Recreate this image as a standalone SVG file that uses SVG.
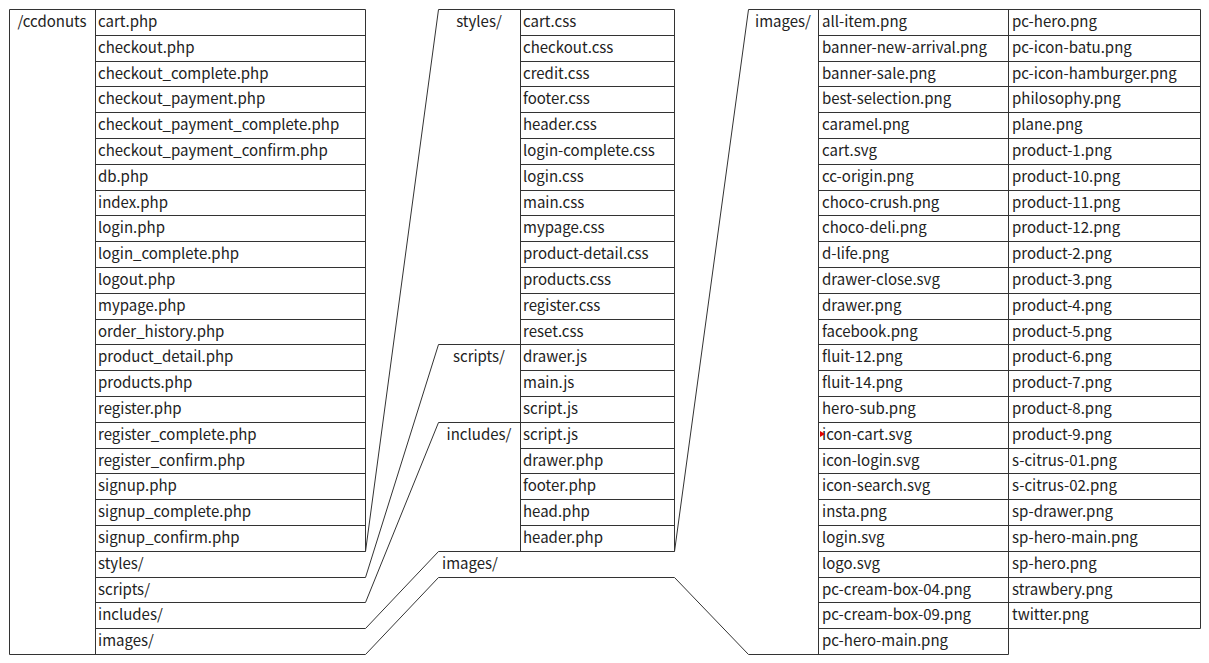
<svg xmlns="http://www.w3.org/2000/svg" width="1209" height="663" viewBox="0 0 1209 663">
<style>
.ln{fill:none;stroke:#333;stroke-width:1}
.t{font-family:"Noto Sans CJK JP","Liberation Sans",sans-serif;font-size:15px;fill:#222}
.c{text-anchor:middle}
</style>
<rect width="1209" height="663" fill="#fff"/>
<g id="ccdonuts">
<path class="ln" d="M9.5,9.5H365.5M9.5,9.5V654.5H365.5M95.5,9.5V654.5M365.5,9.5V551.5M95.5,35.5H365.5M95.5,61.5H365.5M95.5,86.5H365.5M95.5,112.5H365.5M95.5,138.5H365.5M95.5,164.5H365.5M95.5,190.5H365.5M95.5,215.5H365.5M95.5,241.5H365.5M95.5,267.5H365.5M95.5,293.5H365.5M95.5,319.5H365.5M95.5,344.5H365.5M95.5,370.5H365.5M95.5,396.5H365.5M95.5,422.5H365.5M95.5,448.5H365.5M95.5,473.5H365.5M95.5,499.5H365.5M95.5,525.5H365.5M95.5,551.5H365.5M95.5,577.5H365.5M95.5,602.5H365.5M95.5,628.5H365.5"/>
<text class="t c" x="52" y="27">/ccdonuts</text>
<text class="t" x="98" y="27">cart.php</text>
<text class="t" x="98" y="53">checkout.php</text>
<text class="t" x="98" y="79">checkout_complete.php</text>
<text class="t" x="98" y="104">checkout_payment.php</text>
<text class="t" x="98" y="130">checkout_payment_complete.php</text>
<text class="t" x="98" y="156">checkout_payment_confirm.php</text>
<text class="t" x="98" y="182">db.php</text>
<text class="t" x="98" y="208">index.php</text>
<text class="t" x="98" y="233">login.php</text>
<text class="t" x="98" y="259">login_complete.php</text>
<text class="t" x="98" y="285">logout.php</text>
<text class="t" x="98" y="311">mypage.php</text>
<text class="t" x="98" y="337">order_history.php</text>
<text class="t" x="98" y="362">product_detail.php</text>
<text class="t" x="98" y="388">products.php</text>
<text class="t" x="98" y="414">register.php</text>
<text class="t" x="98" y="440">register_complete.php</text>
<text class="t" x="98" y="466">register_confirm.php</text>
<text class="t" x="98" y="491">signup.php</text>
<text class="t" x="98" y="517">signup_complete.php</text>
<text class="t" x="98" y="543">signup_confirm.php</text>
<text class="t" x="98" y="569">styles/</text>
<text class="t" x="98" y="595">scripts/</text>
<text class="t" x="98" y="620">includes/</text>
<text class="t" x="98" y="646">images/</text>
</g>
<g id="connectors">
<path class="ln" d="M365.5,551.5L438.5,9.5M365.5,577.5L438.5,344.5M365.5,602.5L438.5,422.5M365.5,628.5L438.5,551.5M365.5,654.5L438.5,577.5M674.5,551.5L748.5,9.5M674.5,577.5L748.5,654.5"/>
</g>
<g id="styles">
<path class="ln" d="M438.5,9.5H674.5M520.5,9.5V344.5M674.5,9.5V344.5M438.5,344.5H674.5M520.5,35.5H674.5M520.5,61.5H674.5M520.5,86.5H674.5M520.5,112.5H674.5M520.5,138.5H674.5M520.5,164.5H674.5M520.5,190.5H674.5M520.5,215.5H674.5M520.5,241.5H674.5M520.5,267.5H674.5M520.5,293.5H674.5M520.5,319.5H674.5"/>
<text class="t c" x="479" y="27">styles/</text>
<text class="t" x="523" y="27">cart.css</text>
<text class="t" x="523" y="53">checkout.css</text>
<text class="t" x="523" y="79">credit.css</text>
<text class="t" x="523" y="104">footer.css</text>
<text class="t" x="523" y="130">header.css</text>
<text class="t" x="523" y="156">login-complete.css</text>
<text class="t" x="523" y="182">login.css</text>
<text class="t" x="523" y="208">main.css</text>
<text class="t" x="523" y="233">mypage.css</text>
<text class="t" x="523" y="259">product-detail.css</text>
<text class="t" x="523" y="285">products.css</text>
<text class="t" x="523" y="311">register.css</text>
<text class="t" x="523" y="337">reset.css</text>
</g>
<g id="scripts">
<path class="ln" d="M520.5,344.5V422.5M674.5,344.5V422.5M438.5,422.5H674.5M520.5,370.5H674.5M520.5,396.5H674.5"/>
<text class="t c" x="479" y="362">scripts/</text>
<text class="t" x="523" y="362">drawer.js</text>
<text class="t" x="523" y="388">main.js</text>
<text class="t" x="523" y="414">script.js</text>
</g>
<g id="includes">
<path class="ln" d="M520.5,422.5V551.5M674.5,422.5V551.5M438.5,551.5H674.5M520.5,448.5H674.5M520.5,473.5H674.5M520.5,499.5H674.5M520.5,525.5H674.5"/>
<text class="t c" x="479" y="440">includes/</text>
<text class="t" x="523" y="440">script.js</text>
<text class="t" x="523" y="466">drawer.php</text>
<text class="t" x="523" y="491">footer.php</text>
<text class="t" x="523" y="517">head.php</text>
<text class="t" x="523" y="543">header.php</text>
</g>
<g id="images-row">
<path class="ln" d="M438.5,577.5H674.5"/>
<text class="t" x="442" y="569">images/</text>
</g>
<g id="images">
<path class="ln" d="M748.5,9.5H1200.5M818.5,9.5V654.5M1008.5,9.5V654.5M1200.5,9.5V628.5M748.5,654.5H1008.5M818.5,35.5H1200.5M818.5,61.5H1200.5M818.5,86.5H1200.5M818.5,112.5H1200.5M818.5,138.5H1200.5M818.5,164.5H1200.5M818.5,190.5H1200.5M818.5,215.5H1200.5M818.5,241.5H1200.5M818.5,267.5H1200.5M818.5,293.5H1200.5M818.5,319.5H1200.5M818.5,344.5H1200.5M818.5,370.5H1200.5M818.5,396.5H1200.5M818.5,422.5H1200.5M818.5,448.5H1200.5M818.5,473.5H1200.5M818.5,499.5H1200.5M818.5,525.5H1200.5M818.5,551.5H1200.5M818.5,577.5H1200.5M818.5,602.5H1200.5M818.5,628.5H1200.5"/>
<text class="t c" x="783" y="27">images/</text>
<text class="t" x="822" y="27">all-item.png</text>
<text class="t" x="822" y="53">banner-new-arrival.png</text>
<text class="t" x="822" y="79">banner-sale.png</text>
<text class="t" x="822" y="104">best-selection.png</text>
<text class="t" x="822" y="130">caramel.png</text>
<text class="t" x="822" y="156">cart.svg</text>
<text class="t" x="822" y="182">cc-origin.png</text>
<text class="t" x="822" y="208">choco-crush.png</text>
<text class="t" x="822" y="233">choco-deli.png</text>
<text class="t" x="822" y="259">d-life.png</text>
<text class="t" x="822" y="285">drawer-close.svg</text>
<text class="t" x="822" y="311">drawer.png</text>
<text class="t" x="822" y="337">facebook.png</text>
<text class="t" x="822" y="362">fluit-12.png</text>
<text class="t" x="822" y="388">fluit-14.png</text>
<text class="t" x="822" y="414">hero-sub.png</text>
<text class="t" x="822" y="440">icon-cart.svg</text>
<text class="t" x="822" y="466">icon-login.svg</text>
<text class="t" x="822" y="491">icon-search.svg</text>
<text class="t" x="822" y="517">insta.png</text>
<text class="t" x="822" y="543">login.svg</text>
<text class="t" x="822" y="569">logo.svg</text>
<text class="t" x="822" y="595">pc-cream-box-04.png</text>
<text class="t" x="822" y="620">pc-cream-box-09.png</text>
<text class="t" x="822" y="646">pc-hero-main.png</text>
<text class="t" x="1012" y="27">pc-hero.png</text>
<text class="t" x="1012" y="53">pc-icon-batu.png</text>
<text class="t" x="1012" y="79">pc-icon-hamburger.png</text>
<text class="t" x="1012" y="104">philosophy.png</text>
<text class="t" x="1012" y="130">plane.png</text>
<text class="t" x="1012" y="156">product-1.png</text>
<text class="t" x="1012" y="182">product-10.png</text>
<text class="t" x="1012" y="208">product-11.png</text>
<text class="t" x="1012" y="233">product-12.png</text>
<text class="t" x="1012" y="259">product-2.png</text>
<text class="t" x="1012" y="285">product-3.png</text>
<text class="t" x="1012" y="311">product-4.png</text>
<text class="t" x="1012" y="337">product-5.png</text>
<text class="t" x="1012" y="362">product-6.png</text>
<text class="t" x="1012" y="388">product-7.png</text>
<text class="t" x="1012" y="414">product-8.png</text>
<text class="t" x="1012" y="440">product-9.png</text>
<text class="t" x="1012" y="466">s-citrus-01.png</text>
<text class="t" x="1012" y="491">s-citrus-02.png</text>
<text class="t" x="1012" y="517">sp-drawer.png</text>
<text class="t" x="1012" y="543">sp-hero-main.png</text>
<text class="t" x="1012" y="569">sp-hero.png</text>
<text class="t" x="1012" y="595">strawbery.png</text>
<text class="t" x="1012" y="620">twitter.png</text>
<polygon points="820,431 825,434 820,437" fill="#e00000"/>
</g>
</svg>
